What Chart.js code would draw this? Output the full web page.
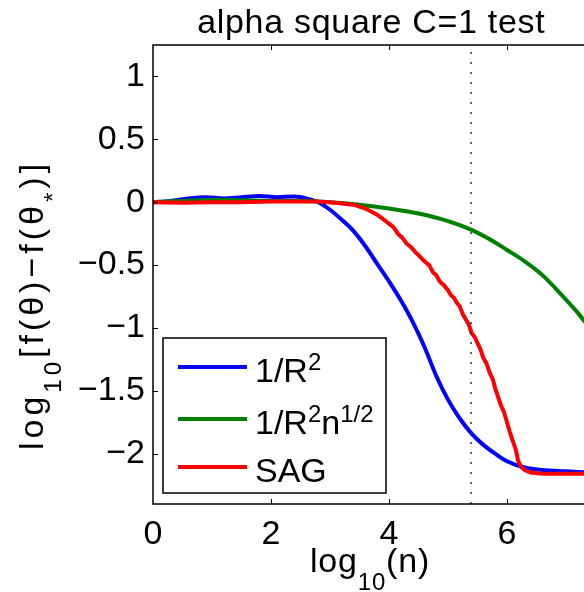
<!DOCTYPE html>
<html>
<head>
<meta charset="utf-8">
<script src="https://cdn.jsdelivr.net/npm/chart.js@4.4.1/dist/chart.umd.min.js"></script>
<style>
  html, body { margin: 0; padding: 0; background: #fff; overflow: hidden; }
  #wrap { width: 600px; height: 592px; }
</style>
</head>
<body>
<div id="wrap"><canvas id="chart" width="600" height="592"></canvas></div>
<script>
// Data (x = log10(n), y = log10[f(theta)-f(theta*)])
const titleText = 'alpha square C=1 test';
const xTicks = [0, 2, 4, 6];
const yTicks = [-2, -1.5, -1, -0.5, 0, 0.5, 1];
const xMin = 0, xMax = 7.4;
const yMin = -2.4, yMax = 1.25;
const vLineX = 5.39;

const seriesLabels = [
  [{ t: '1/R' }, { t: '2', k: 'sup' }],
  [{ t: '1/R' }, { t: '2', k: 'sup' }, { t: 'n' }, { t: '1/2', k: 'sup' }],
  [{ t: 'SAG' }]
];
const seriesColors = ['#0000ff', '#008000', '#ff0000'];

const blueX = [0, 0.3, 0.6, 0.9, 1.2, 1.5, 1.8, 2.1, 2.4, 2.6, 2.8, 3.0, 3.2, 3.4, 3.6, 3.8, 4.0, 4.2, 4.4, 4.6, 4.8, 5.0, 5.2, 5.4, 5.6, 5.8, 6.0, 6.3, 6.6, 7.0, 7.4];
const blueY = [0, 0.01, 0.03, 0.04, 0.03, 0.04, 0.05, 0.04, 0.045, 0.03, 0.0, -0.06, -0.14, -0.23, -0.35, -0.49, -0.63, -0.78, -0.95, -1.15, -1.38, -1.57, -1.72, -1.84, -1.93, -2.0, -2.06, -2.11, -2.13, -2.14, -2.15];

const greenX = [0, 0.5, 1.0, 1.5, 2.0, 2.5, 3.0, 3.5, 4.0, 4.5, 5.0, 5.4, 5.8, 6.0, 6.3, 6.6, 6.95, 7.2, 7.4];
const greenY = [0, 0.01, 0.02, 0.015, 0.01, 0.01, 0.0, -0.02, -0.05, -0.09, -0.15, -0.22, -0.32, -0.38, -0.47, -0.58, -0.75, -0.88, -1.0];

const redX = [0, 0.5, 1.0, 1.5, 2.0, 2.5, 2.8, 3.0, 3.2, 3.4, 3.6, 3.8, 4.0, 4.08, 4.15, 4.22, 4.3, 4.38, 4.45, 4.52, 4.6, 4.68, 4.75, 4.8, 4.86, 4.93, 5.0, 5.05, 5.1, 5.15, 5.2, 5.25, 5.3, 5.35, 5.4, 5.45, 5.5, 5.55, 5.6, 5.65, 5.71, 5.76, 5.8, 5.85, 5.9, 5.95, 6.0, 6.05, 6.1, 6.15, 6.19, 6.25, 6.3, 6.4, 6.6, 7.0, 7.4];
const redY = [0, -0.005, 0, 0, 0.005, 0.005, 0.005, 0.0, -0.01, -0.02, -0.05, -0.1, -0.17, -0.2, -0.25, -0.28, -0.33, -0.36, -0.4, -0.43, -0.47, -0.5, -0.56, -0.58, -0.63, -0.66, -0.7, -0.74, -0.76, -0.8, -0.83, -0.89, -0.93, -0.97, -1.04, -1.07, -1.12, -1.17, -1.24, -1.28, -1.36, -1.41, -1.48, -1.55, -1.62, -1.67, -1.75, -1.83, -1.9, -1.97, -2.06, -2.11, -2.13, -2.15, -2.16, -2.16, -2.16];

const FONT = "'Liberation Sans', Arial, Helvetica, sans-serif";
const BIG = 34, SMALL = 24;

function pts(xs, ys) {
  return xs.map((x, i) => ({ x: x, y: ys[i] }));
}

// draws text pieces with sub/superscripts, returns the width
function drawRich(ctx, segs, x, y) {
  let cx = x;
  segs.forEach(s => {
    const small = s.k === 'sub' || s.k === 'sup';
    ctx.font = (small ? SMALL : BIG) + 'px ' + FONT;
    let dy = 0;
    if (s.k === 'sub') dy = 18;
    if (s.k === 'sup') dy = -12;
    ctx.fillText(s.t, cx, y + dy);
    cx += ctx.measureText(s.t).width;
  });
  return cx - x;
}

function richWidth(ctx, segs) {
  let w = 0;
  segs.forEach(s => {
    const small = s.k === 'sub' || s.k === 'sup';
    ctx.font = (small ? SMALL : BIG) + 'px ' + FONT;
    w += ctx.measureText(s.t).width;
  });
  return w;
}

const matlabAxes = {
  id: 'matlabAxes',
  afterDatasetsDraw(chart) {
    const ctx = chart.ctx;
    const a = chart.chartArea;
    const xs = chart.scales.x, ys = chart.scales.y;
    ctx.save();
    ctx.strokeStyle = '#000';
    ctx.lineWidth = 1.5;
    ctx.strokeRect(a.left, a.top, a.right - a.left, a.bottom - a.top);

    // inward ticks
    ctx.lineWidth = 1;
    ctx.beginPath();
    xTicks.forEach(v => {
      const px = Math.round(xs.getPixelForValue(v)) + 0.5;
      if (v === xMin) return;
      ctx.moveTo(px, a.bottom); ctx.lineTo(px, a.bottom - 5);
      ctx.moveTo(px, a.top); ctx.lineTo(px, a.top + 5);
    });
    yTicks.forEach(v => {
      const py = Math.round(ys.getPixelForValue(v)) + 0.5;
      ctx.moveTo(a.left, py); ctx.lineTo(a.left + 5, py);
      ctx.moveTo(a.right, py); ctx.lineTo(a.right - 5, py);
    });
    ctx.stroke();

    ctx.fillStyle = '#000';
    ctx.textBaseline = 'alphabetic';
    ctx.textAlign = 'left';

    // title
    ctx.letterSpacing = '0.7px';
    ctx.font = BIG + 'px ' + FONT;
    const tw = ctx.measureText(titleText).width;
    ctx.fillText(titleText, (a.left + a.right) / 2 - tw / 2, 33);

    // x label
    ctx.letterSpacing = '0.8px';
    const xl = [{ t: 'log' }, { t: '10', k: 'sub' }, { t: '(n)' }];
    const xw = richWidth(ctx, xl);
    drawRich(ctx, xl, 370 - xw / 2, 572);

    // y label (rotated)
    ctx.letterSpacing = '4px';
    const yl = [{ t: 'log' }, { t: '10', k: 'sub' }, { t: '[f(\u03b8)\u2212f(\u03b8' }, { t: '*', k: 'sub' }, { t: ')]' }];
    const yw = richWidth(ctx, yl);
    ctx.save();
    ctx.translate(43, 305);
    ctx.rotate(-Math.PI / 2);
    drawRich(ctx, yl, -yw / 2, 0);
    ctx.restore();
    ctx.letterSpacing = '0px';

    // legend
    const lx = 163, ly = 338, lw = 223, lh = 155;
    ctx.fillStyle = '#fff';
    ctx.fillRect(lx, ly, lw, lh);
    ctx.strokeStyle = '#000';
    ctx.lineWidth = 1.5;
    ctx.strokeRect(lx, ly, lw, lh);
    const rowY = [367, 419, 467];
    seriesLabels.forEach((segs, i) => {
      ctx.strokeStyle = seriesColors[i];
      ctx.lineWidth = 4;
      ctx.beginPath();
      ctx.moveTo(178, rowY[i]);
      ctx.lineTo(247, rowY[i]);
      ctx.stroke();
      ctx.fillStyle = '#000';
      drawRich(ctx, segs, 255, rowY[i] + 15);
    });
    ctx.restore();
  }
};

const ctx = document.getElementById('chart').getContext('2d');
const chart = new Chart(ctx, {
  type: 'line',
  data: {
    datasets: [
      {
        data: pts(blueX, blueY),
        borderColor: seriesColors[0],
        borderWidth: 4,
        pointRadius: 0,
        cubicInterpolationMode: 'monotone',
        order: 3
      },
      {
        data: pts(greenX, greenY),
        borderColor: seriesColors[1],
        borderWidth: 4,
        pointRadius: 0,
        cubicInterpolationMode: 'monotone',
        order: 2
      },
      {
        data: pts(redX, redY),
        borderColor: seriesColors[2],
        borderWidth: 4,
        pointRadius: 0,
        tension: 0,
        order: 1
      },
      {
        data: [{ x: vLineX, y: yMin }, { x: vLineX, y: yMax }],
        borderColor: '#333',
        borderWidth: 1.5,
        borderDash: [2, 8],
        pointRadius: 0,
        order: 0
      }
    ]
  },
  options: {
    responsive: false,
    animation: false,
    layout: { padding: { left: 0, right: 600 - 589.6, top: 45, bottom: 0 } },
    plugins: { legend: { display: false }, tooltip: { enabled: false } },
    scales: {
      x: {
        type: 'linear',
        min: xMin,
        max: xMax,
        afterBuildTicks: s => { s.ticks = xTicks.map(v => ({ value: v })); },
        afterFit: s => { s.height = 88; },
        grid: { display: false, drawTicks: false },
        border: { display: false },
        ticks: {
          padding: 10,
          color: '#000',
          font: { family: FONT, size: BIG },
          maxRotation: 0,
          callback: v => String(v)
        }
      },
      y: {
        type: 'linear',
        min: yMin,
        max: yMax,
        afterBuildTicks: s => { s.ticks = yTicks.map(v => ({ value: v })); },
        afterFit: s => { s.width = 153; },
        grid: { display: false, drawTicks: false },
        border: { display: false },
        ticks: {
          padding: 8,
          color: '#000',
          font: { family: FONT, size: BIG },
          callback: v => String(v).replace('-', '\u2212')
        }
      }
    }
  },
  plugins: [matlabAxes]
});
</script>
</body>
</html>
